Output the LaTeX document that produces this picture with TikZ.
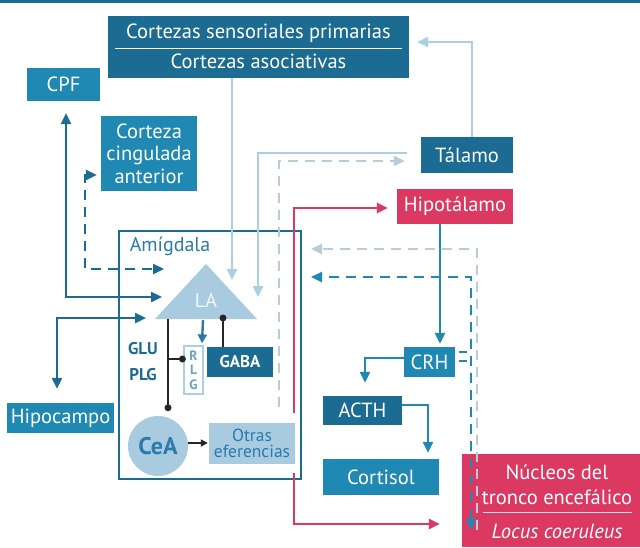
\documentclass[tikz,border=0pt]{standalone}
\usepackage{fontspec}
\setmainfont{PT Sans}
\usetikzlibrary{arrows.meta,calc}
\definecolor{dkb}{HTML}{1C6B93}
\definecolor{mdb}{HTML}{1F88B3}
\definecolor{ltb}{HTML}{A8CBE0}
\definecolor{lta}{HTML}{ACCFE3}
\definecolor{gry}{HTML}{B9CDD8}
\definecolor{rd}{HTML}{DB3862}
\definecolor{txb}{HTML}{2A7AAB}
\newcommand\myfs[2]{\fontsize{#1}{#2}\selectfont}
\begin{document}
\begin{tikzpicture}[x=1pt,y=-1pt,
  box/.style={rectangle, inner sep=0pt, text=white, align=center, font=\myfs{20.5}{22.5}},
  tip/.style={-{Triangle[length=11pt,width=10pt]}},
  btip/.style={{Triangle[length=11pt,width=10pt]}-{Triangle[length=11pt,width=10pt]}},
  dkline/.style={draw=dkb, line width=2.4pt},
  mdline/.style={draw=mdb, line width=2.4pt},
  ltline/.style={draw=lta, line width=2.4pt},
  grdash/.style={draw=gry, line width=2.4pt, dash pattern=on 10pt off 7pt},
  dkdash/.style={draw=dkb, line width=2.4pt, dash pattern=on 10pt off 7pt},
  mddash/.style={draw=mdb, line width=2.4pt, dash pattern=on 10pt off 7pt},
  rdline/.style={draw=rd, line width=2.4pt},
  blk/.style={draw=black!85, line width=2pt},
  dot/.style={circle, fill=black!85, inner sep=0pt, minimum size=7pt},
  lbl/.style={text=white, font=\myfs{20.5}{22.5}, inner sep=0pt}
]
\useasboundingbox (0,0) rectangle (640,547);
\fill[dkb] (0,0) rectangle (640,3);

% boxes
\node[box, fill=dkb, minimum width=301, minimum height=62] (cort) at (258.5,47) {};
\node[lbl] (cort1) at (258.5,33) {Cortezas sensoriales primarias};
\node[lbl] (cort2) at (258.5,61) {Cortezas asociativas};
\draw[white, line width=0.8pt] ($(cort.west)+(7,1)$) -- ($(cort.east)+(-7,1)$);

\node[box, fill=mdb, minimum width=73, minimum height=33] (cpf) at (63.5,84.5) {CPF};
\node[box, fill=mdb, minimum width=96, minimum height=75] (cca) at (149,153.5) {Corteza\\cingulada\\anterior};
\node[box, fill=dkb, minimum width=92, minimum height=36] (tal) at (467,155) {Tálamo};
\node[box, fill=rd, minimum width=116, minimum height=35] (hipot) at (455,206.5) {Hipotálamo};
\node[box, fill=mdb, minimum width=51, minimum height=30] (crh) at (429.5,362) {CRH};
\node[box, fill=dkb, minimum width=79, minimum height=29] (acth) at (362.5,410.5) {ACTH};
\node[box, fill=mdb, minimum width=116, minimum height=36] (cortisol) at (381,477) {Cortisol};
\node[box, fill=mdb, minimum width=107, minimum height=30] (hipo) at (60.5,418) {Hipocampo};
\node[box, fill=rd, minimum width=178, minimum height=93] (nuc) at (551,500.5) {};
\node[lbl] (nuc1) at (557,472) {Núcleos del};
\node[lbl] (nuc2) at (557,497) {tronco encefálico};
\draw[white!80!rd, line width=0.8pt] ($(nuc.west)+(21,11.5)$) -- ($(nuc.east)+(-8,11.5)$);
\node[lbl, font=\myfs{20.5}{22.5}\itshape] (nuc3) at (557,531) {Locus coeruleus};

% amygdala
\node[draw=dkb, line width=2pt, minimum width=182, minimum height=248, inner sep=0pt] (amy) at (210,355) {};
\node[text=txb, font=\myfs{20}{22}, inner sep=0pt] (amyl) at (170,246) {Amígdala};
\coordinate (lac) at (206,300);
\fill[ltb] ($(lac)+(-51,19)$) -- ($(lac)+(0,-36)$) -- ($(lac)+(51,19)$) -- cycle;
\node[text=white!85!ltb, font=\myfs{20}{22}, inner sep=0pt] (la) at (lac) {LA};
\node[box, fill=dkb, minimum width=66, minimum height=30, font=\myfs{17}{20}\bfseries] (gaba) at (240,362) {GABA};
\node[draw=lta, line width=1.2pt, fill=white, minimum width=19, minimum height=48, inner sep=0pt,
      text=txb!70, font=\myfs{13.5}{14.5}\bfseries, align=center] (rlg) at (193.5,370) {R\\L\\G};
\node[circle, fill=ltb, minimum size=60, inner sep=0pt, text=txb, font=\myfs{24}{26}\bfseries] (cea) at (158,446) {CeA};
\node[rectangle, fill=ltb, minimum width=86, minimum height=41, inner sep=0pt, text=txb, align=center,
      font=\myfs{17.5}{16.5}] (otras) at (252,443.5) {Otras\\eferencias};
\node[text=dkb, font=\myfs{17}{20}\bfseries, inner sep=0pt] (glu) at (143,349) {GLU};
\node[text=dkb, font=\myfs{17}{20}\bfseries, inner sep=0pt] (plg) at (143,375) {PLG};

% connectors
\draw[ltline, tip] ($(tal.north)+(5,0)$) |- ($(cort.east)+(8,-5)$);
\draw[ltline, tip] ($(cort.south)+(-26.5,0)$) -- ($(la)+(26,-20)$);
\draw[ltline, tip] ($(tal.west)+(-14,-2)$) -| ($(la)+(52,-3)$);
\draw[grdash, tip] ($(la)+(73,107)$) |- ($(tal.west)+(-16,6)$);

\draw[dkline, btip] ($(cpf.south)+(2.5,12)$) |- ($(la)+(-44,-3)$);
\draw[dkdash, btip] ($(cca.west)+(-4,21.5)$) -- ++(-12,0) |- ($(la)+(-42,-31)$);
\draw[dkline, btip] ($(hipo.north)+(-3.5,-14)$) |- ($(la)+(-60,18)$);

\draw[draw=txb, line width=2.4pt, -{Triangle[length=9pt,width=9pt]}] ($(la)+(-3,20)$) -- ($(rlg.north)+(8.5,-2)$);
\draw[blk] ($(la)+(-38,19)$) -- ($(cea.north)+(10,-8)$) node[dot] {};
\draw[blk] ($(rlg.west)+(-16,-11)$) -- ($(rlg.west)+(-1,-11)$) node[dot] {};
\draw[blk] ($(gaba.north)+(-17,0)$) -- ($(la)+(17,18)$) node[dot] {};
\draw[blk, -{Triangle[length=7pt,width=7pt]}] ($(cea.east)+(0,-3)$) -- ($(otras.west)+(-1,-0.5)$);

\draw[rdline, tip] ($(amy.south east)+(-8,-67)$) |- ($(hipot.west)+(-9,1.5)$);
\draw[rdline, tip] ($(amy.south east)+(-8,-7)$) |- ($(nuc.west)+(-22,23.5)$);

\draw[mdline, tip] ($(hipot.south)+(-15,0)$) -- ($(crh.north)+(10.5,-3)$);
\draw[mdline, tip] ($(crh.west)+(0,-4)$) -| ($(acth.north)+(2.5,-13)$);
\draw[mdline, tip] ($(acth.east)+(0,-5.5)$) -| ($(cortisol.north)+(47,-6)$);

\draw[grdash, tip] ($(nuc.north)+(-74,76)$) |- ($(amy.east)+(9,-106)$);
\draw[mddash, btip] ($(nuc.north)+(-80,76)$) |- ($(amy.east)+(9,-78)$);
\draw[mdb, line width=2.4pt] ($(crh.east)+(4,-10)$) -- ++(8,0);
\draw[mdb, line width=2.4pt] ($(crh.east)+(4,-1)$) -- ++(8,0);
\end{tikzpicture}
\end{document}
